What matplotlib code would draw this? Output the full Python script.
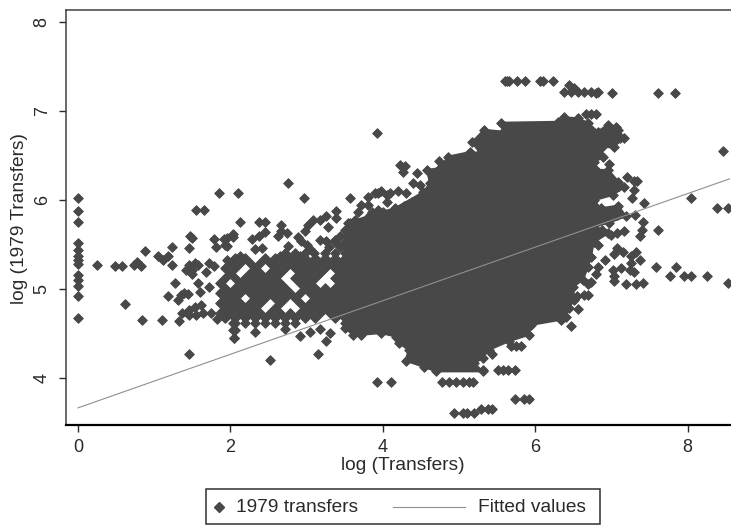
import matplotlib
matplotlib.use("Agg")
import matplotlib.pyplot as plt
from matplotlib.lines import Line2D
from matplotlib.patches import Rectangle

plt.rcParams["font.family"] = ["Liberation Sans", "DejaVu Sans"]

MARK = "#484848"
LINE = "#8f8f8f"
INK = "#2a2a2a"

# separate points
zero_y = [6.03, 5.88, 5.76, 5.52, 5.44, 5.38, 5.33, 5.29, 5.16, 5.10, 5.04, 4.92, 4.68]

left_x = [0.25, 0.49, 0.58, 0.77, 0.74, 0.83, 0.88, 1.05, 1.11, 1.18, 1.23, 1.23, 0.62, 0.84, 1.10, 1.32, 1.46,
          1.27, 1.18, 1.58, 1.60, 1.72, 1.68, 1.46, 1.50, 1.42, 1.50, 1.58, 1.53, 1.72, 1.79, 1.31, 1.35, 1.39, 1.45,
          1.37, 1.46, 1.53, 1.61, 1.46, 1.55, 1.64, 1.75, 1.82, 1.92, 1.47, 1.50, 1.46, 1.55, 1.66, 1.85, 1.78, 1.81,
          1.92, 1.96, 2.03, 2.03, 2.05, 2.03]
left_y = [5.27, 5.26, 5.26, 5.31, 5.27, 5.26, 5.43, 5.38, 5.33, 5.37, 5.47, 5.27, 4.84, 4.66, 4.66, 4.64, 4.27,
          5.07, 4.93, 5.07, 4.97, 5.03, 5.19, 5.27, 5.22, 5.22, 5.17, 5.27, 5.30, 5.30, 5.26, 4.88, 4.94, 4.96, 4.95,
          4.73, 4.77, 4.80, 4.82, 4.71, 4.71, 4.73, 4.73, 4.67, 4.69, 5.60, 5.58, 5.46, 5.89, 5.89, 6.08, 5.56, 5.47,
          5.57, 5.49, 5.59, 4.54, 4.45, 4.62]

upper_x = [2.76, 2.10, 2.96, 3.57, 3.81, 3.94, 4.05, 3.81, 3.94, 2.13, 2.37, 2.45, 2.67, 2.67, 2.63, 2.74, 2.28,
           2.37, 2.45, 2.04, 1.95, 1.93, 2.76, 2.32, 2.41, 2.89, 2.93, 3.00, 3.04, 3.02, 2.98, 3.09, 3.17, 3.26,
           3.39, 3.39, 3.28, 3.17, 3.26, 3.37, 3.63, 3.55, 3.63, 3.57, 3.55, 3.79, 3.85, 2.13, 1.95, 2.65, 2.76,
           2.92, 3.90, 3.98, 4.09, 4.20, 4.31, 4.23, 4.29, 4.27, 3.92, 4.74, 4.45, 4.40, 4.49,
           2.72, 2.85, 2.98, 3.10, 3.24, 3.37, 3.50, 3.30, 3.44, 3.37, 3.50, 3.44, 3.57,
           3.72, 3.68, 3.86, 4.00, 4.14, 4.28, 4.38, 4.47, 4.05]
upper_y = [6.19, 6.08, 6.03, 6.03, 6.04, 6.08, 6.06, 5.95, 5.89, 5.76, 5.76, 5.76, 5.72, 5.65, 5.60, 5.63, 5.57,
           5.60, 5.64, 5.62, 5.58, 5.50, 5.49, 5.45, 5.46, 5.59, 5.54, 5.50, 5.45, 5.72, 5.65, 5.78, 5.78, 5.82,
           5.88, 5.80, 5.70, 5.55, 5.54, 5.55, 5.78, 5.74, 5.70, 5.61, 5.65, 5.78, 5.74, 5.38, 5.33, 5.37, 5.38,
           5.37, 6.08, 6.10, 6.08, 6.10, 6.08, 6.40, 6.38, 6.32, 6.76, 6.44, 6.31, 6.19, 6.17,
           5.41, 5.41, 5.41, 5.41, 5.41, 5.41, 5.41, 5.47, 5.47, 5.53, 5.53, 5.60, 5.66,
           5.95, 5.87, 5.87, 5.87, 5.87, 5.93, 5.98, 6.02, 5.98]

lower_x = [2.32, 2.72, 2.91, 3.04, 3.17, 3.26, 3.31, 2.52, 3.15, 2.05, 2.06, 6.47, 5.31, 5.44, 5.51, 5.58, 5.64,
           5.73, 5.68, 5.75, 5.81, 3.92, 4.11, 4.78, 4.87, 4.96, 5.05, 5.13, 5.19, 4.94, 5.05, 5.11, 5.20, 5.29,
           5.38, 5.44, 5.73, 5.86, 5.92]
lower_y = [4.52, 4.55, 4.48, 4.52, 4.56, 4.42, 4.51, 4.21, 4.27, 4.45, 4.54, 4.59, 4.10, 4.28, 4.09, 4.09, 4.09,
           4.09, 4.37, 4.37, 4.37, 3.96, 3.96, 3.96, 3.96, 3.96, 3.96, 3.96, 3.96, 3.61, 3.61, 3.61, 3.61, 3.66,
           3.66, 3.66, 3.77, 3.77, 3.77]

right_x = [5.60, 5.63, 5.66, 5.76, 5.87, 6.06, 6.10, 6.23, 6.38, 6.47, 6.56, 6.64, 6.73, 6.82, 6.45, 6.51, 6.80,
           7.01, 7.61, 7.83, 6.67, 6.73, 6.80, 8.47, 8.39, 8.53, 8.04, 7.43, 7.31, 7.41, 7.40, 7.37, 7.61, 7.59,
           7.85, 7.77, 7.95, 8.05, 8.25, 8.53, 7.21, 7.30, 7.34, 7.30, 7.27, 7.10, 6.97, 7.09, 7.11, 6.95, 6.95,
           6.87, 7.08, 7.08, 6.99, 7.17, 6.88, 6.82, 7.08, 7.15, 7.04, 7.32, 7.26, 7.37, 7.26, 7.24, 7.30, 7.13,
           7.02, 7.04, 7.03, 6.80, 7.19, 7.32, 7.41, 6.91, 6.82, 6.69, 6.73, 6.55, 6.69, 6.64, 6.56]
right_y = [7.34, 7.34, 7.34, 7.34, 7.34, 7.34, 7.34, 7.34, 7.22, 7.22, 7.22, 7.22, 7.22, 7.22, 7.29, 7.26, 7.20,
           7.20, 7.20, 7.20, 6.97, 6.97, 6.97, 6.55, 5.91, 5.91, 6.03, 5.97, 5.83, 5.76, 5.67, 5.60, 5.67, 5.25,
           5.25, 5.15, 5.15, 5.15, 5.15, 5.07, 6.26, 6.22, 6.22, 6.12, 6.03, 6.16, 6.41, 6.79, 6.70, 6.77, 6.68,
           6.74, 5.84, 5.63, 5.61, 5.65, 5.67, 5.50, 5.46, 5.42, 5.40, 5.42, 5.37, 5.33, 5.30, 5.22, 5.20, 5.24,
           5.22, 5.15, 5.09, 5.17, 5.06, 5.06, 5.07, 5.33, 5.25, 5.06, 5.08, 4.92, 4.94, 4.94, 4.78]

# the speckled left part of the cloud, one list of x per y level
cloud_y = [5.35, 5.30, 5.24, 5.18, 5.13, 5.07, 5.02, 4.96, 4.90, 4.85, 4.79, 4.73, 4.68, 4.62]
cloud_x = [
    [2.06, 2.19, 2.45, 2.59, 2.72, 2.85, 2.98, 3.11, 3.24, 3.37, 3.50],
    [1.99, 2.13, 2.26, 2.39, 2.52, 2.65, 2.78, 2.91, 3.04, 3.18, 3.31, 3.44, 3.57],
    [1.93, 2.06, 2.32, 2.59, 2.72, 2.85, 2.98, 3.11, 3.24, 3.37, 3.50],
    [1.99, 2.26, 2.39, 2.52, 2.65, 2.91, 3.04, 3.18, 3.44, 3.57],
    [1.93, 2.06, 2.19, 2.32, 2.45, 2.59, 2.85, 2.98, 3.11, 3.37, 3.50],
    [1.86, 2.13, 2.26, 2.39, 2.52, 2.65, 2.91, 3.04, 3.44, 3.57],
    [1.93, 2.06, 2.19, 2.32, 2.45, 2.59, 2.72, 2.98, 3.11, 3.24, 3.37, 3.50],
    [1.86, 1.99, 2.13, 2.26, 2.39, 2.52, 2.65, 2.78, 2.91, 3.04, 3.18, 3.31, 3.44, 3.57],
    [1.93, 2.06, 2.32, 2.45, 2.59, 2.72, 2.85, 3.11, 3.24, 3.37, 3.50],
    [1.86, 1.99, 2.13, 2.26, 2.39, 2.65, 2.91, 3.04, 3.18, 3.31, 3.44, 3.57],
    [1.93, 2.06, 2.19, 2.32, 2.59, 2.98, 3.11, 3.24, 3.37, 3.50],
    [1.86, 1.99, 2.13, 2.26, 2.39, 2.52, 2.65, 2.78, 2.91, 3.04, 3.18, 3.31, 3.44, 3.57],
    [1.93, 2.06, 2.19, 2.32, 2.45, 2.59, 2.72, 2.85, 2.98, 3.11, 3.37, 3.50],
    [2.06, 2.19, 2.32, 2.45, 2.59, 2.72, 2.85, 3.50],
]

# outline of the solid core, where single points can no longer be told apart
core_x = [3.50, 3.50, 3.57, 3.83, 4.16, 4.53, 4.62, 4.58, 4.75, 4.86, 5.14, 5.28, 5.17, 5.33, 5.58, 5.55, 6.30,
          6.38, 6.56, 6.69, 6.82, 6.96, 7.06, 7.17, 7.03, 6.86, 6.89, 6.77, 6.80, 6.96, 7.09, 7.17, 7.02, 6.77,
          6.86, 7.09, 7.19, 6.97, 6.77, 6.96, 6.77, 6.73, 6.69, 6.63, 6.50, 6.51, 6.44, 6.40, 6.34, 5.94, 5.92,
          5.66, 5.39, 5.31, 5.20, 5.31, 4.70, 4.54, 4.30, 4.34, 4.21, 4.17, 3.98, 3.71, 3.61]
core_y = [4.57, 5.67, 5.75, 5.83, 5.91, 6.09, 6.19, 6.34, 6.36, 6.49, 6.54, 6.53, 6.65, 6.79, 6.77, 6.87, 6.88,
          6.93, 6.92, 6.87, 6.77, 6.85, 6.82, 6.70, 6.60, 6.59, 6.48, 6.43, 6.34, 6.34, 6.21, 6.15, 6.06, 6.00,
          5.91, 5.94, 5.82, 5.75, 5.70, 5.63, 5.53, 5.36, 5.25, 5.11, 5.03, 4.88, 4.79, 4.69, 4.66, 4.60, 4.49,
          4.42, 4.32, 4.23, 4.17, 4.08, 4.08, 4.13, 4.20, 4.32, 4.40, 4.47, 4.51, 4.49, 4.49]

fit_x = [0.0, 8.55]
fit_y = [3.67, 6.24]

x_ticks = [0, 2, 4, 6, 8]
y_ticks = [4, 5, 6, 7, 8]

fig = plt.figure(figsize=(7.31, 5.26), dpi=100)
ax = fig.add_axes([66 / 731, 1 - 425 / 526, 665 / 731, 415 / 526])


def dots(xs, ys):
    ax.scatter(xs, ys, marker="D", s=24, color=MARK, linewidths=0.7, edgecolors=MARK, zorder=2)


dots([0.0] * len(zero_y), zero_y)
dots(left_x, left_y)
dots(upper_x, upper_y)
dots(lower_x, lower_y)
dots(right_x, right_y)
for y, xs in zip(cloud_y, cloud_x):
    dots(xs, [y] * len(xs))
ax.fill(core_x, core_y, color=MARK, linewidth=1.5, zorder=2)
dots(core_x, core_y)
ax.plot(fit_x, fit_y, color=LINE, linewidth=0.8, zorder=3)

ax.set_xlim(-0.157, 8.57)
ax.set_ylim(3.478, 8.135)
ax.set_xticks(x_ticks)
ax.set_yticks(y_ticks)
ax.tick_params(axis="both", length=5, width=1, color=INK, labelcolor=INK, labelsize=13)
ax.tick_params(axis="x", pad=5)
ax.tick_params(axis="y", pad=6)
for t in ax.get_yticklabels():
    t.set_rotation(90)
    t.set_va("center")

for side in ["left", "top"]:
    ax.spines[side].set_color("#404040")
    ax.spines[side].set_linewidth(1.1)
ax.spines["bottom"].set_color("black")
ax.spines["bottom"].set_linewidth(1.6)
ax.spines["right"].set_visible(False)

fig.text(403 / 731, 1 - 466 / 526, "log (Transfers)", ha="center", va="center", fontsize=13.8, color=INK)
fig.text(20 / 731, 1 - 218 / 526, "log (1979 Transfers)", ha="center", va="center", rotation=90,
         fontsize=13.8, color=INK)

# legend box drawn by hand, the marker and the line key sit at different offsets
fig.add_artist(Rectangle((206 / 731, 1 - 524 / 526), 394 / 731, 35 / 526, transform=fig.transFigure,
                         facecolor="white", edgecolor="#303030", linewidth=1.1))
fig.add_artist(Line2D([219 / 731], [1 - 507 / 526], marker="D", linestyle="none", markersize=4.6, color=MARK,
                      transform=fig.transFigure))
fig.add_artist(Line2D([393 / 731, 465 / 731], [1 - 507 / 526] * 2, color=LINE, linewidth=0.8,
                      transform=fig.transFigure))
fig.text(236 / 731, 1 - 507 / 526, "1979 transfers", ha="left", va="center", fontsize=13.8, color=INK)
fig.text(478 / 731, 1 - 507 / 526, "Fitted values", ha="left", va="center", fontsize=13.8, color=INK)

fig.savefig("out.png", dpi=100)
